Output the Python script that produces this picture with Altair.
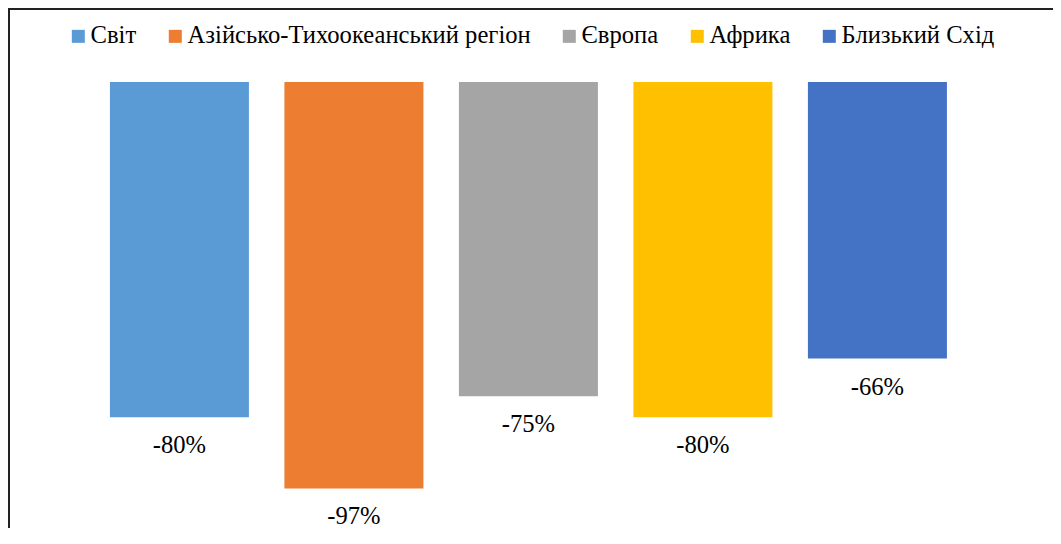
import altair as alt
import pandas as pd

regions = ["Світ", "Азійсько-Тихоокеанський регіон", "Європа", "Африка", "Близький Схід"]
values = [-80, -97, -75, -80, -66]
labels = ["-80%", "-97%", "-75%", "-80%", "-66%"]
colors = ["#5B9BD5", "#ED7D31", "#A5A5A5", "#FFC000", "#4472C4"]

df = pd.DataFrame({"region": regions, "value": values, "label": labels})

FONT = "Liberation Serif"
W, H = 1045, 520

x = alt.X("region:N", sort=regions, axis=None,
          scale=alt.Scale(paddingInner=0.2034, paddingOuter=0.596, align=0.490))
y_scale = alt.Scale(domain=[-106.44, 17.66], nice=False, zero=False)

bars = alt.Chart(df).mark_bar().encode(
    x=x,
    y=alt.Y("value:Q", scale=y_scale, axis=None),
    y2=alt.datum(0),
    color=alt.Color("region:N", sort=regions,
                    scale=alt.Scale(domain=regions, range=colors),
                    legend=alt.Legend(orient="none", direction="horizontal",
                                      legendX=58, legendY=16, title=None,
                                      symbolType="square", symbolSize=169,
                                      symbolStrokeWidth=0, symbolOpacity=1,
                                      labelFont=FONT, labelFontSize=24.6,
                                      labelColor="#000", columnPadding=26,
                                      labelOffset=0, padding=0, labelLimit=0)),
)

text = alt.Chart(df).mark_text(font=FONT, fontSize=24.6, color="#000",
                               baseline="alphabetic", dy=36).encode(
    x=x,
    y=alt.Y("value:Q", scale=y_scale, axis=None),
    text="label:N",
)

frame = pd.DataFrame({"k": [0]})
left_edge = alt.Chart(frame).mark_rule(color="#222", strokeWidth=2).encode(
    x=alt.value(1), y=alt.value(0), y2=alt.value(H))
top_edge = alt.Chart(frame).mark_rule(color="#222", strokeWidth=2).encode(
    x=alt.value(0), x2=alt.value(W), y=alt.value(1))

chart = (bars + text + left_edge + top_edge).properties(
    width=W, height=H, padding=0,
    autosize=alt.AutoSizeParams(type="none"),
).configure_view(stroke="transparent", strokeWidth=0).configure(background="white")

chart.save("out.html", embed_options={"renderer": "svg", "actions": False})
